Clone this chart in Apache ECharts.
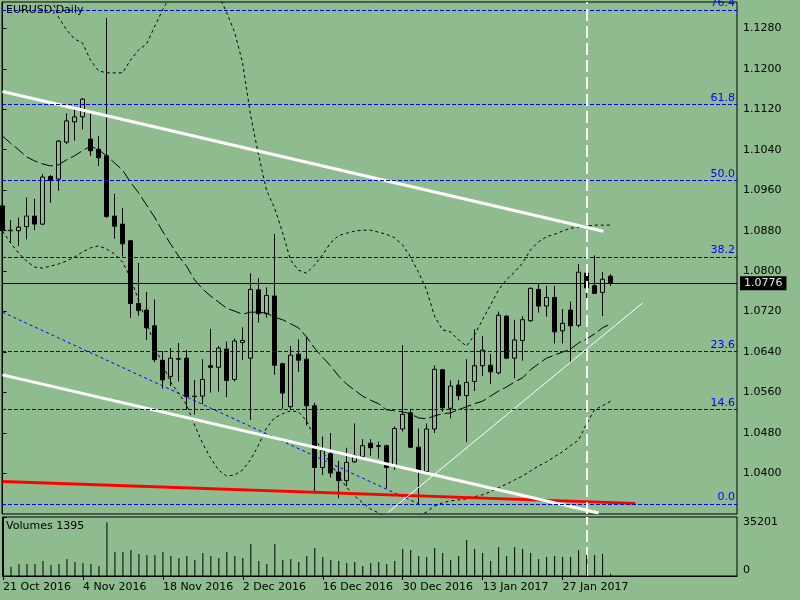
<!DOCTYPE html>
<html>
<head>
<meta charset="utf-8">
<script src="https://cdn.jsdelivr.net/npm/echarts@6/dist/echarts.min.js"></script>
<style>html,body{margin:0;padding:0;background:#8fbc8f;}#c{width:800px;height:600px;}</style>
</head>
<body>
<div id="c"></div>
<script>
// ---- data (EURUSD Daily, 21 Oct 2016 .. 6 Feb 2017) ----
const opens = [1.0929,1.0881,1.0880,1.0888,1.0909,1.0893,1.0987,1.0982,1.1055,1.1095,
1.1105,1.1061,1.1041,1.1028,1.0909,1.0893,1.0860,1.0736,1.0723,1.0692,
1.0624,1.0592,1.0627,1.0628,1.0553,1.0553,1.0613,1.0610,1.0646,1.0586,
1.0659,1.0628,1.0763,1.0716,1.0751,1.0617,1.0532,1.0636,1.0626,1.0534,
1.0412,1.0439,1.0403,1.0386,1.0423,1.0433,1.0460,1.0455,1.0455,1.0414,
1.0488,1.0520,1.0452,1.0404,1.0488,1.0605,1.0529,1.0575,1.0554,1.0582,
1.0613,1.0614,1.0599,1.0711,1.0628,1.0663,1.0702,1.0764,1.0731,1.0748,
1.0682,1.0723,1.0693,1.0796,1.0771,1.0758,1.0790];
const closes = [1.0880,1.0880,1.0887,1.0909,1.0893,1.0986,1.0979,1.1057,1.1097,1.1105,
1.1140,1.1038,1.1024,1.0908,1.0889,1.0854,1.0736,1.0722,1.0688,1.0625,
1.0585,1.0628,1.0626,1.0552,1.0552,1.0586,1.0610,1.0648,1.0584,1.0662,
1.0663,1.0764,1.0716,1.0752,1.0614,1.0559,1.0634,1.0624,1.0534,1.0412,
1.0445,1.0401,1.0386,1.0422,1.0436,1.0455,1.0451,1.0454,1.0412,1.0489,
1.0517,1.0452,1.0405,1.0488,1.0606,1.0530,1.0573,1.0554,1.0580,1.0613,
1.0644,1.0601,1.0713,1.0628,1.0664,1.0704,1.0766,1.0731,1.0748,1.0680,
1.0697,1.0692,1.0798,1.0767,1.0756,1.0784,1.0776];
const lows = [1.0870,1.0856,1.0850,1.0863,1.0881,1.0891,1.0935,1.0959,1.1051,1.1058,
1.1080,1.1028,1.1008,1.0905,1.0864,1.0829,1.0708,1.0712,1.0664,1.0620,
1.0568,1.0573,1.0582,1.0526,1.0517,1.0537,1.0560,1.0562,1.0551,1.0582,
1.0624,1.0506,1.0698,1.0708,1.0595,1.0528,1.0527,1.0601,1.0495,1.0364,
1.0397,1.0392,1.0351,1.0375,1.0421,1.0429,1.0435,1.0430,1.0371,1.0407,
1.0483,1.0450,1.0340,1.0401,1.0480,1.0522,1.0509,1.0545,1.0462,1.0563,
1.0593,1.0577,1.0596,1.0626,1.0588,1.0623,1.0700,1.0718,1.0710,1.0657,
1.0657,1.0619,1.0689,1.0728,1.0755,1.0711,1.0771];
const highs = [1.0935,1.0901,1.0906,1.0946,1.0943,1.0992,1.0990,1.1059,1.1112,1.1125,
1.1142,1.1112,1.1067,1.1300,1.0953,1.0925,1.0861,1.0816,1.0759,1.0744,
1.0642,1.0648,1.0658,1.0644,1.0585,1.0626,1.0686,1.0652,1.0661,1.0667,
1.0689,1.0796,1.0786,1.0768,1.0873,1.0619,1.0652,1.0665,1.0670,1.0540,
1.0473,1.0480,1.0425,1.0451,1.0499,1.0468,1.0468,1.0463,1.0457,1.0493,
1.0654,1.0528,1.0489,1.0499,1.0614,1.0607,1.0584,1.0585,1.0626,1.0685,
1.0672,1.0636,1.0720,1.0713,1.0704,1.0711,1.0768,1.0776,1.0771,1.0771,
1.0725,1.0740,1.0814,1.0801,1.0831,1.0798,1.0794];
const volumes = [5970,5550,6980,7160,7160,8950,6570,7160,10150,8360,
7760,7160,5970,32060,14330,14330,15520,13130,12540,12540,
14330,11940,10750,11940,9550,13730,11940,10750,14330,11940,
10750,19100,8950,7160,19100,9550,10150,8360,11940,16720,
11340,9550,8950,7760,8360,5970,7760,8360,7160,8950,
16120,15520,11940,11340,16720,13730,9550,11940,21490,16120,
13730,8950,17310,11940,17310,16120,13730,10150,11340,11940,
11340,11340,15520,12540,12540,13130,1395];
const maMiddle = [1.1067,1.1053,1.1040,1.1026,1.1018,1.1012,1.1008,1.1010,1.1020,1.1028,
1.1038,1.1047,1.1040,1.1028,1.1014,1.1000,1.0976,1.0955,1.0931,1.0907,
1.0879,1.0854,1.0830,1.0810,1.0783,1.0765,1.0751,1.0739,1.0727,1.0721,
1.0715,1.0719,1.0719,1.0717,1.0709,1.0704,1.0696,1.0688,1.0670,1.0648,
1.0630,1.0613,1.0593,1.0577,1.0565,1.0553,1.0545,1.0538,1.0526,1.0524,
1.0522,1.0518,1.0510,1.0508,1.0514,1.0518,1.0520,1.0526,1.0532,1.0538,
1.0543,1.0553,1.0563,1.0571,1.0581,1.0589,1.0605,1.0617,1.0628,1.0634,
1.0640,1.0646,1.0658,1.0666,1.0676,1.0688,1.0696];
const bandUpper = [1.1390,1.1395,1.1400,1.1398,1.1390,1.1375,1.1345,1.1302,1.1277,1.1259,
1.1251,1.1217,1.1196,1.1192,1.1192,1.1192,1.1217,1.1237,1.1249,1.1283,
1.1316,1.1346,1.1371,1.1385,1.1385,1.1375,1.1356,1.1346,1.1312,1.1273,
1.1213,1.1109,1.1030,1.0960,1.0925,1.0877,1.0822,1.0802,1.0796,1.0812,
1.0832,1.0856,1.0870,1.0875,1.0879,1.0881,1.0881,1.0877,1.0873,1.0866,
1.0852,1.0828,1.0798,1.0763,1.0711,1.0684,1.0680,1.0664,1.0652,1.0674,
1.0704,1.0733,1.0763,1.0783,1.0798,1.0816,1.0842,1.0858,1.0868,1.0873,
1.0879,1.0885,1.0887,1.0889,1.0891,1.0891,1.0891];
const bandLower = [1.0879,1.0856,1.0836,1.0820,1.0808,1.0806,1.0810,1.0814,1.0820,1.0828,
1.0838,1.0846,1.0850,1.0844,1.0834,1.0818,1.0787,1.0743,1.0700,1.0654,
1.0615,1.0581,1.0559,1.0536,1.0496,1.0460,1.0431,1.0407,1.0395,1.0397,
1.0407,1.0427,1.0456,1.0490,1.0510,1.0518,1.0524,1.0522,1.0504,1.0472,
1.0443,1.0421,1.0395,1.0373,1.0356,1.0342,1.0330,1.0322,1.0312,1.0306,
1.0306,1.0310,1.0316,1.0324,1.0336,1.0342,1.0346,1.0348,1.0350,1.0354,
1.0358,1.0364,1.0372,1.0379,1.0387,1.0395,1.0405,1.0415,1.0423,1.0433,
1.0443,1.0455,1.0466,1.0498,1.0526,1.0534,1.0543];
const fibLabels = ['0.0','14.6','23.6','38.2','50.0','61.8','76.4'];
const fibPrices = [1.0340,1.0527,1.0641,1.0828,1.0979,1.1130,1.1316];
const trendUpper = [[0,1.1155],[75.1,1.0879]];
const trendLower = [[0,1.0595],[74.5,1.0322]];
const trendThin = [[48.2,1.0323],[80,1.0737]];
const redLine = [[0,1.0384],[79.1,1.0341]];
const blueDiag = [[0,1.0719],[52,1.0340]];
const cursorBar = 73;
const priceTicks = [1.040,1.048,1.056,1.064,1.072,1.080,1.088,1.096,1.104,1.112,1.120,1.128];
const volTicks = [0,35201];
const dateTicks = [0,10,20,30,40,50,60,70];
const dateLabels = ['21 Oct 2016','4 Nov 2016','18 Nov 2016','2 Dec 2016','16 Dec 2016','30 Dec 2016','13 Jan 2017','27 Jan 2017'];

const FONT = 'DejaVu Sans';
const lastPrice = closes[closes.length - 1];
const candleData = opens.map((o, i) => [i, o, closes[i], lows[i], highs[i]]);
const idx = a => a.map((v, i) => [i, v]);

const fibMarks = fibPrices.map((p, i) => ({
  yAxis: p,
  lineStyle: {color: '#0000ff', type: [4, 2], width: 1},
  label: {show: true, position: 'insideEndTop', formatter: fibLabels[i], color: '#0000ff', fontSize: 11, fontFamily: FONT, distance: [2, 1]}
}));

function seg(data, color, width, type, z) {
  return {type: 'line', xAxisIndex: 0, yAxisIndex: 0, data: data, symbol: 'none', silent: true, clip: true, z: z || 4,
    lineStyle: {color: color, width: width, type: type || 'solid'}};
}

const chart = echarts.init(document.getElementById('c'), null, {renderer: 'canvas'});
chart.setOption({
  animation: false,
  backgroundColor: '#8fbc8f',
  textStyle: {fontFamily: FONT},
  title: [
    {text: 'EURUSD,Daily', left: 6, top: 5, padding: 0, textStyle: {fontSize: 11, fontWeight: 'normal', color: '#000', fontFamily: FONT}},
    {text: 'Volumes ' + volumes[volumes.length - 1], left: 6, top: 521, padding: 0, textStyle: {fontSize: 11, fontWeight: 'normal', color: '#000', fontFamily: FONT}}
  ],
  grid: [
    {left: 2, top: 2, width: 735, height: 512, show: true, borderColor: '#000', borderWidth: 1},
    {left: 2, top: 517, width: 735, height: 59, show: true, borderColor: '#000', borderWidth: 1}
  ],
  xAxis: [
    {gridIndex: 0, type: 'value', min: -0.0625, max: 91.8125, show: false, splitLine: {show: false}},
    {gridIndex: 1, type: 'value', min: -0.0625, max: 91.8125,
      axisLine: {show: true, lineStyle: {color: '#000'}},
      axisTick: {show: true, customValues: dateTicks, length: 4, lineStyle: {color: '#000'}},
      axisLabel: {customValues: dateTicks, formatter: v => dateLabels[dateTicks.indexOf(Math.round(v))], align: 'left', color: '#000', fontSize: 11, margin: 6, fontFamily: FONT},
      splitLine: {show: false}}
  ],
  yAxis: [
    {gridIndex: 0, type: 'value', position: 'right', min: 1.032, max: 1.1332,
      axisLine: {show: true, lineStyle: {color: '#000'}},
      axisTick: {show: true, customValues: priceTicks, length: 4, lineStyle: {color: '#000'}},
      axisLabel: {customValues: priceTicks, formatter: v => v.toFixed(4), color: '#000', fontSize: 11, margin: 6, fontFamily: FONT},
      splitLine: {show: false}},
    {gridIndex: 1, type: 'value', position: 'right', min: 0, max: volTicks[1],
      axisLine: {show: true, lineStyle: {color: '#000'}},
      axisTick: {show: true, customValues: volTicks, length: 4, lineStyle: {color: '#000'}},
      axisLabel: {customValues: volTicks, formatter: v => (v === 0 ? '{b|0}' : '{t|' + v + '}'), color: '#000', fontSize: 11, margin: 6, fontFamily: FONT,
        rich: {t: {padding: [10, 0, 0, 0], fontSize: 11, color: '#000', fontFamily: FONT}, b: {padding: [0, 0, 12, 0], fontSize: 11, color: '#000', fontFamily: FONT}}},
      splitLine: {show: false}}
  ],
  series: [
    {type: 'candlestick', xAxisIndex: 0, yAxisIndex: 0, data: candleData, encode: {x: 0, y: [1, 2, 3, 4]},
      barWidth: 5, silent: true, clip: true, z: 2,
      itemStyle: {color: '#8fbc8f', color0: '#000', borderColor: '#000', borderColor0: '#000', borderColorDoji: '#000', borderWidth: 1},
      markLine: {silent: true, symbol: ['none', 'none'], animation: false, precision: 4,
        data: fibMarks.concat([
          {yAxis: lastPrice, lineStyle: {color: '#000', type: 'solid', width: 1},
            label: {show: true, position: 'end', formatter: lastPrice.toFixed(4), backgroundColor: '#000', color: '#e8e8e8', padding: [1, 4, 0, 4], fontSize: 11, lineHeight: 13, fontFamily: FONT, distance: 3}},
          {xAxis: cursorBar, lineStyle: {color: '#fff', type: [12, 5], width: 2}, label: {show: false}}
        ])}},
    seg(idx(maMiddle), '#000', 1, [12, 4], 3),
    seg(idx(bandUpper), '#000', 1, [3, 3], 3),
    seg(idx(bandLower), '#000', 1, [3, 3], 3),
    seg(blueDiag, '#0000ff', 1, [3, 3], 3),
    seg(redLine, '#ff0000', 3, 'solid', 4),
    seg(trendUpper, '#ffffff', 3, 'solid', 4),
    seg(trendLower, '#ffffff', 3, 'solid', 4),
    seg(trendThin, '#ffffff', 1, 'solid', 4),
    {type: 'bar', xAxisIndex: 1, yAxisIndex: 1, data: idx(volumes), barWidth: 1, silent: true, z: 3,
      itemStyle: {color: '#000'},
      markLine: {silent: true, symbol: ['none', 'none'], animation: false, z: 1,
        data: [{xAxis: cursorBar, lineStyle: {color: '#fff', type: [12, 5], width: 2}, label: {show: false}}]}}
  ]
});
</script>
</body>
</html>
